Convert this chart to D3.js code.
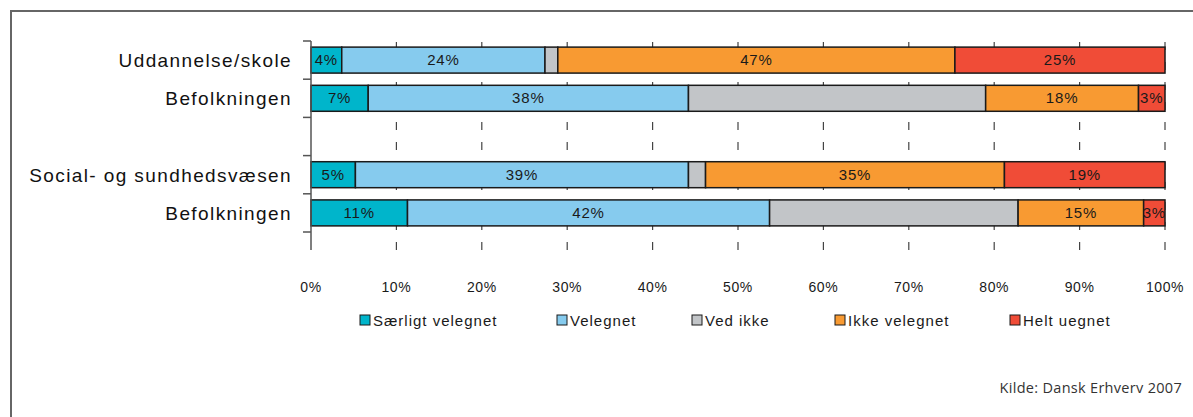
<!DOCTYPE html>
<html>
<head>
<meta charset="utf-8">
<script src="https://cdn.jsdelivr.net/npm/d3@7"></script>
<style>
  body { margin: 0; background: #fff; }
  svg { display: block; font-family: "Liberation Sans", Arial, sans-serif; }
</style>
</head>
<body>
<div id="chart"></div>
<script>
const width = 1193;
const height = 417;

// rows (the blank one is the gap between the two groups)
const rowIds = ["udd", "udd_bef", "gap", "soc", "soc_bef"];
const rowLabels = ["Uddannelse/skole", "Befolkningen", "", "Social- og sundhedsvæsen", "Befolkningen"];

const series = ["Særligt velegnet", "Velegnet", "Ved ikke", "Ikke velegnet", "Helt uegnet"];
const colors = ["#00b5cb", "#86cbee", "#c2c5c8", "#f89a32", "#f04c37"];

// segment sizes in percent
const saerligt = [3.6, 6.7, 0, 5.2, 11.3];
const velegnet = [23.8, 37.5, 0, 39.0, 42.4];
const vedIkke  = [1.5, 34.8, 0, 2.0, 29.1];
const ikke     = [46.5, 17.9, 0, 35.0, 14.7];
const helt     = [24.6, 3.1, 0, 18.8, 2.5];

// printed labels (the "Ved ikke" segments carry none)
const saerligtLbl = ["4%", "7%", null, "5%", "11%"];
const velegnetLbl = ["24%", "38%", null, "39%", "42%"];
const vedIkkeLbl  = [null, null, null, null, null];
const ikkeLbl     = ["47%", "18%", null, "35%", "15%"];
const heltLbl     = ["25%", "3%", null, "19%", "3%"];

const xTicks = [0, 10, 20, 30, 40, 50, 60, 70, 80, 90, 100];

const valueArrays = [saerligt, velegnet, vedIkke, ikke, helt];
const labelArrays = [saerligtLbl, velegnetLbl, vedIkkeLbl, ikkeLbl, heltLbl];

const table = rowIds.map((id, i) => {
  const row = { id: id };
  series.forEach((s, j) => row[s] = valueArrays[j][i]);
  return row;
});

const svg = d3.select("#chart").append("svg")
  .attr("width", width)
  .attr("height", height);

// frame
svg.append("rect")
  .attr("x", 11).attr("y", 11)
  .attr("width", width).attr("height", height)
  .attr("fill", "none")
  .attr("stroke", "#666")
  .attr("stroke-width", 2);

const x = d3.scaleLinear().domain([0, 100]).range([311, 1165]);
const y = d3.scaleBand().domain(rowIds).range([41, 232])
  .paddingInner(0.32).paddingOuter(0.16);

const axisBottom = 250;

// dashed grid lines
svg.append("g").selectAll("line")
  .data(xTicks.filter(d => d > 0))
  .enter().append("line")
  .attr("x1", d => x(d)).attr("x2", d => x(d))
  .attr("y1", 41).attr("y2", axisBottom)
  .attr("stroke", "#444")
  .attr("stroke-width", 1.2)
  .attr("stroke-dasharray", "8,12")
  .attr("stroke-dashoffset", -1);

// stacked bars
const stack = d3.stack().keys(series);
const layers = stack(table);

const layer = svg.append("g").selectAll("g")
  .data(layers)
  .enter().append("g")
  .attr("fill", (d, i) => colors[i]);

layer.selectAll("rect")
  .data(d => d.filter(p => p[1] - p[0] > 0))
  .enter().append("rect")
  .attr("x", d => x(d[0]))
  .attr("y", d => y(d.data.id))
  .attr("width", d => x(d[1]) - x(d[0]))
  .attr("height", y.bandwidth())
  .attr("stroke", "#1a1a1a")
  .attr("stroke-width", 1.5);

// segment labels
layers.forEach((l, j) => {
  svg.append("g").selectAll("text")
    .data(l.map((p, i) => ({ p: p, lbl: labelArrays[j][i] })).filter(d => d.lbl))
    .enter().append("text")
    .attr("x", d => (x(d.p[0]) + x(d.p[1])) / 2)
    .attr("y", d => y(d.p.data.id) + y.bandwidth() / 2 + 5)
    .attr("text-anchor", "middle")
    .attr("font-size", "15px")
    .attr("letter-spacing", "0.8px")
    .attr("fill", "#1a1a1a")
    .text(d => d.lbl);
});

// left axis with ticks on band boundaries
svg.append("line")
  .attr("x1", 311).attr("x2", 311)
  .attr("y1", 41).attr("y2", axisBottom)
  .attr("stroke", "#555")
  .attr("stroke-width", 1.5);

const bounds = d3.range(rowIds.length + 1).map(i => y.range()[0] + i * y.step());
svg.append("g").selectAll("line")
  .data(bounds)
  .enter().append("line")
  .attr("x1", 303).attr("x2", 311)
  .attr("y1", d => d).attr("y2", d => d)
  .attr("stroke", "#555")
  .attr("stroke-width", 1.5);

// row labels
svg.append("g").selectAll("text")
  .data(rowIds.filter((id, i) => rowLabels[i]))
  .enter().append("text")
  .attr("x", 292)
  .attr("y", d => y(d) + y.bandwidth() / 2 + 7)
  .attr("text-anchor", "end")
  .attr("font-size", "19px")
  .attr("letter-spacing", "1.4px")
  .attr("fill", "#111")
  .text(d => rowLabels[rowIds.indexOf(d)]);

// x tick labels
svg.append("g").selectAll("text")
  .data(xTicks)
  .enter().append("text")
  .attr("x", d => x(d))
  .attr("y", 292)
  .attr("text-anchor", "middle")
  .attr("font-size", "14px")
  .attr("letter-spacing", "0.6px")
  .attr("fill", "#1a1a1a")
  .text(d => d + "%");

// legend
const legendX = [360, 557, 692, 835, 1010];
const legend = svg.append("g").selectAll("g")
  .data(series)
  .enter().append("g")
  .attr("transform", (d, i) => `translate(${legendX[i]},315)`);

legend.append("rect")
  .attr("width", 10).attr("height", 10)
  .attr("fill", (d, i) => colors[i])
  .attr("stroke", "#1a1a1a")
  .attr("stroke-width", 1);

legend.append("text")
  .attr("x", 13)
  .attr("y", 10.5)
  .attr("font-size", "15px")
  .attr("letter-spacing", "1px")
  .attr("fill", "#1a1a1a")
  .text(d => d);

// source
svg.append("text")
  .attr("x", 1182)
  .attr("y", 393)
  .attr("text-anchor", "end")
  .attr("font-family", "'Open Sans', 'Noto Sans', sans-serif")
  .attr("font-size", "14.5px")
  .attr("letter-spacing", "0.3px")
  .attr("fill", "#333")
  .text("Kilde: Dansk Erhverv 2007");
</script>
</body>
</html>
